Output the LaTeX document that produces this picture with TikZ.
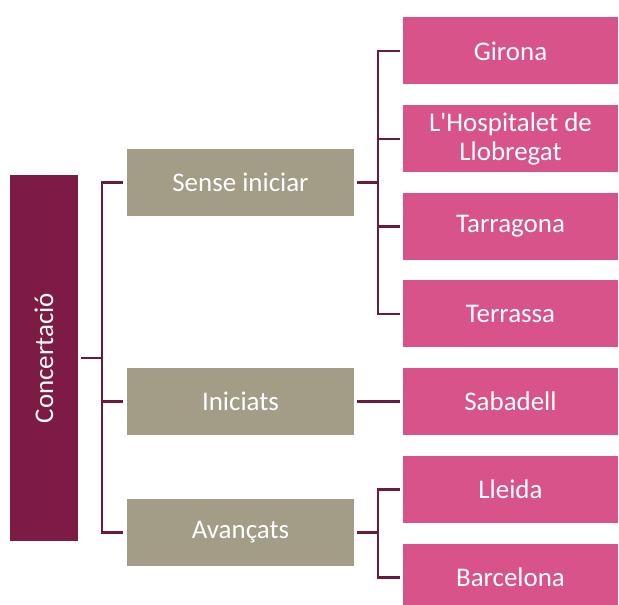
\documentclass[tikz,border=0pt]{standalone}
\usepackage{fontspec}
\newfontfamily\carl{Carlito}
\definecolor{cmar}{HTML}{7E1B45}
\definecolor{cgray}{HTML}{A39D88}
\definecolor{cpink}{HTML}{D75389}
\definecolor{cline}{HTML}{6B1A3E}
\begin{document}
\begin{tikzpicture}[x=0.75pt,y=-0.75pt,
  box/.style={draw=none,text=white,font=\carl\fontsize{20.2}{22}\selectfont,align=center,inner sep=0pt},
  mid/.style={box,fill=cgray,minimum width=227*0.75pt,minimum height=67*0.75pt},
  city/.style={box,fill=cpink,minimum width=215*0.75pt,minimum height=67*0.75pt},
  conn/.style={draw=cline,line width=1.6pt}]
\useasboundingbox (0,0) rectangle (619,605);
\node[box,fill=cmar,rotate=90,minimum width=366*0.75pt,minimum height=68*0.75pt] (c) at (44,358) {Concertació};
\node[mid] (s) at (240.5,182.5) {Sense iniciar};
\node[mid] (i) at (240.5,401.5) {Iniciats};
\node[mid] (a) at (240.5,532.5) {Avançats};
\node[city] (g) at (510.5,51) {Girona};
\node[city] (h) at (510.5,139) {L'Hospitalet de\\Llobregat};
\node[city] (t) at (510.5,226.5) {Tarragona};
\node[city] (tr) at (510.5,314) {Terrassa};
\node[city] (sb) at (510.5,401.5) {Sabadell};
\node[city] (l) at (510.5,489.5) {Lleida};
\node[city] (b) at (510.5,577.5) {Barcelona};
% connectors
\draw[conn] ([xshift=3*0.75pt]c.south) -- ++(21,0);
\draw[conn] ([xshift=-4*0.75pt]s.west) -| (102,358) |- ([xshift=-4*0.75pt]a.west);
\draw[conn] (102,401.5) -- ([xshift=-4*0.75pt]i.west);
\draw[conn] ([xshift=3*0.75pt]s.east) -- ++(21,0);
\draw[conn] ([xshift=-3*0.75pt]g.west) -| (378,182.5) |- ([xshift=-3*0.75pt]tr.west);
\draw[conn] (378,139) -- ([xshift=-3*0.75pt]h.west);
\draw[conn] (378,226.5) -- ([xshift=-3*0.75pt]t.west);
\draw[conn] ([xshift=3*0.75pt]i.east) -- ([xshift=-3*0.75pt]sb.west);
\draw[conn] ([xshift=3*0.75pt]a.east) -- ++(21,0);
\draw[conn] ([xshift=-3*0.75pt]l.west) -| (378,532.5) |- ([xshift=-3*0.75pt]b.west);
\end{tikzpicture}
\end{document}
